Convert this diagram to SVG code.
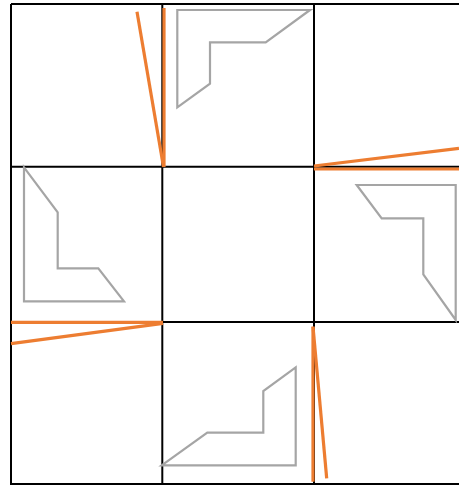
<svg xmlns="http://www.w3.org/2000/svg" width="459" height="485" viewBox="0 0 459 485">
<style>
.grid{stroke:#000;stroke-width:2;fill:none}
.shape{stroke:#A5A5A5;stroke-width:2.2;fill:none;stroke-linejoin:miter}
.edge{stroke:#ED7D31;stroke-width:3.2;fill:none;stroke-linecap:butt}
</style>
<rect width="459" height="485" fill="#fff"/>
<g id="grid" class="grid">
<line x1="11" y1="4" x2="459" y2="4"/>
<line x1="11" y1="166.7" x2="459" y2="166.7"/>
<line x1="11" y1="322" x2="459" y2="322"/>
<line x1="11" y1="484" x2="459" y2="484"/>
<line x1="11" y1="4" x2="11" y2="485"/>
<line x1="162.3" y1="4" x2="162.3" y2="485"/>
<line x1="314" y1="4" x2="314" y2="485"/>
</g>
<g id="shape-top" class="shape"><polygon points="177.3,10 310,10 265.7,42.3 210,42.3 210,83.7 177.3,107.3"/></g>
<g id="shape-right" class="shape"><polygon points="356.7,185 455.7,185 455.7,320 423.3,274.3 423.3,218.3 381.7,218.3"/></g>
<g id="shape-bottom" class="shape"><polygon points="161.7,465.3 295.7,465.3 295.7,367.3 263.3,391 263.3,432.7 207.3,432.7"/></g>
<g id="shape-left" class="shape"><polygon points="24,167.3 57.7,212.3 57.7,268.3 98.3,268.3 124,301.3 24,301.3"/></g>
<g id="connectors" class="edge">
<line x1="164" y1="8" x2="164" y2="167"/>
<line x1="137" y1="11.7" x2="163.5" y2="167"/>
<line x1="314" y1="169" x2="459" y2="169"/>
<line x1="314" y1="166" x2="459" y2="148.3"/>
<line x1="11" y1="322.3" x2="163" y2="322.3"/>
<line x1="11" y1="343.7" x2="163" y2="323.3"/>
<line x1="313" y1="326.7" x2="313" y2="481.7"/>
<line x1="313" y1="326.7" x2="326.7" y2="478.3"/>
</g>
</svg>
